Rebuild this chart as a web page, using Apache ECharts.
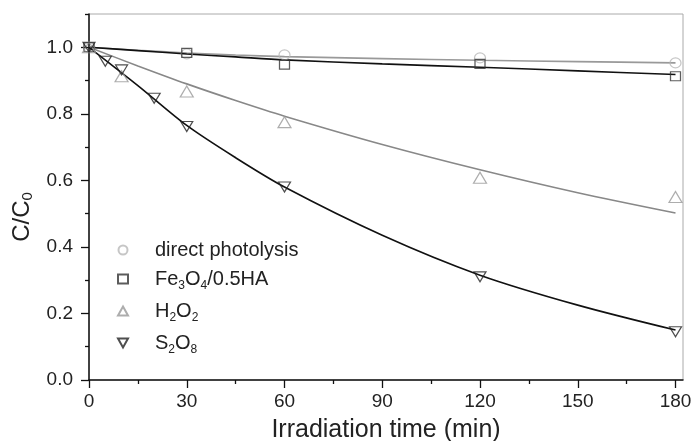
<!DOCTYPE html>
<html>
<head>
<meta charset="utf-8">
<script src="https://cdn.jsdelivr.net/npm/echarts@6/dist/echarts.min.js"></script>
<style>
  html, body { margin: 0; padding: 0; background: #fff; }
  #myCharts { width: 696px; height: 441px; }
</style>
</head>
<body>
<div id="myCharts"></div>
<script>
// measured points
let timeDirect = [0, 30, 60, 120, 180];
let valDirect = [1.0, 0.98, 0.977, 0.968, 0.953];
let timeFe = [0, 30, 60, 120, 180];
let valFe = [1.0, 0.983, 0.948, 0.95, 0.913];
let timeH2O2 = [0, 10, 30, 60, 120, 180];
let valH2O2 = [1.0, 0.913, 0.867, 0.775, 0.608, 0.55];
let timeS2O8 = [0, 5, 10, 20, 30, 60, 120, 180];
let valS2O8 = [1.0, 0.958, 0.932, 0.847, 0.762, 0.58, 0.31, 0.145];

// fitted curves
let fitTime = [0, 15, 30, 45, 60, 90, 120, 150, 180];
let fitDirect = [1.0, 0.991, 0.983, 0.977, 0.972, 0.966, 0.961, 0.957, 0.953];
let fitFe = [1.0, 0.99, 0.98, 0.971, 0.962, 0.95, 0.94, 0.929, 0.918];
let fitH2O2 = [1.0, 0.944, 0.89, 0.84, 0.793, 0.708, 0.632, 0.563, 0.502];
let fitS2O8 = [1.0, 0.885, 0.765, 0.668, 0.58, 0.435, 0.315, 0.225, 0.15];

let seriesNames = ["direct photolysis", "Fe3O4/0.5HA", "H2O2", "S2O8"];
let legendLabels = {
  "direct photolysis": "{g|}{n|direct photolysis}",
  "Fe3O4/0.5HA": "{g|}{n|Fe}{s|3}{n|O}{s|4}{n|/0.5HA}",
  "H2O2": "{g|}{n|H}{s|2}{n|O}{s|2}",
  "S2O8": "{g|}{n|S}{s|2}{n|O}{s|8}",
};

let xMajor = [0, 30, 60, 90, 120, 150, 180];
let xMinor = [15, 45, 75, 105, 135, 165];
let yMajor = [0, 0.2, 0.4, 0.6, 0.8, 1.0];
let yMinor = [0.1, 0.3, 0.5, 0.7, 0.9, 1.1];

const font = "Liberation Sans, Arial, sans-serif";

function pairs(xs, ys) {
  return xs.map((x, i) => [x, ys[i]]);
}

function fitLine(ys, color) {
  return {
    type: "line",
    data: pairs(fitTime, ys),
    smooth: 0.3,
    showSymbol: false,
    silent: true,
    lineStyle: { color: color, width: 1.6 },
    z: 2,
  };
}

function points(name, xs, ys, symbol, size, color, rotate) {
  return {
    name: name,
    type: "scatter",
    data: pairs(xs, ys),
    symbol: symbol,
    symbolSize: size,
    symbolRotate: rotate || 0,
    itemStyle: { color: "rgba(255,255,255,0)", borderColor: color, borderWidth: 1.2 },
    z: 3,
  };
}

let option = {
  animation: false,
  backgroundColor: "#fff",
  grid: {
    left: 89,
    right: 13,
    top: 14,
    bottom: 61,
    show: true,
    borderColor: "#aaa",
    borderWidth: 1,
    outerBoundsMode: "none",
  },
  legend: {
    data: [
      seriesNames[0],
      seriesNames[1],
      seriesNames[2],
      // upside-down triangle icon for the S2O8 entry
      { name: seriesNames[3], icon: "path://M0,0L10,0L5,9Z" },
    ],
    orient: "vertical",
    left: 112,
    top: 235,
    itemWidth: 10,
    itemHeight: 9,
    itemGap: 9,
    formatter: (name) => legendLabels[name],
    textStyle: {
      color: "#222",
      fontFamily: font,
      rich: {
        g: { width: 22 },
        n: { fontSize: 20, fontFamily: font, color: "#222" },
        s: { fontSize: 12, fontFamily: font, color: "#222", padding: [14, 0, 0, 0] },
      },
    },
  },
  xAxis: [
    {
      type: "value",
      position: "bottom",
      min: 0,
      max: 182.3,
      name: "Irradiation time (min)",
      nameLocation: "middle",
      nameGap: 38,
      nameTextStyle: { fontSize: 25, fontFamily: font, color: "#222" },
      axisLine: { onZero: false, lineStyle: { color: "#111", width: 1.5 } },
      axisTick: { customValues: xMajor, length: 8, lineStyle: { color: "#111", width: 1.3 } },
      axisLabel: { customValues: xMajor, margin: 12, fontSize: 19, fontFamily: font, color: "#222" },
      splitLine: { show: false },
    },
    {
      type: "value",
      position: "bottom",
      min: 0,
      max: 182.3,
      axisLine: { show: false },
      axisTick: { customValues: xMinor, length: 4, lineStyle: { color: "#111", width: 1.3 } },
      axisLabel: { show: false },
      splitLine: { show: false },
    },
  ],
  yAxis: [
    {
      type: "value",
      position: "left",
      min: 0,
      max: 1.1,
      name: "{a|C/C}{b|0}",
      nameLocation: "middle",
      nameGap: 44,
      nameTextStyle: {
        padding: [0, 40, 0, 0],
        rich: {
          a: { fontSize: 24, fontFamily: font, color: "#222" },
          b: { fontSize: 15, fontFamily: font, color: "#222", padding: [12, 0, 0, 0] },
        },
      },
      axisLine: { onZero: false, lineStyle: { color: "#111", width: 1.5 } },
      axisTick: { customValues: yMajor, length: 8, lineStyle: { color: "#111", width: 1.3 } },
      axisLabel: {
        customValues: yMajor,
        margin: 16,
        fontSize: 19,
        fontFamily: font,
        color: "#222",
        formatter: (v) => v.toFixed(1),
      },
      splitLine: { show: false },
    },
    {
      type: "value",
      position: "left",
      min: 0,
      max: 1.1,
      axisLine: { show: false },
      axisTick: { customValues: yMinor, length: 4, lineStyle: { color: "#111", width: 1.3 } },
      axisLabel: { show: false },
      splitLine: { show: false },
    },
  ],
  series: [
    fitLine(fitDirect, "#999"),
    fitLine(fitFe, "#111"),
    fitLine(fitH2O2, "#888"),
    fitLine(fitS2O8, "#111"),
    points(seriesNames[0], timeDirect, valDirect, "circle", [11, 10], "#b8b8b8"),
    points(seriesNames[1], timeFe, valFe, "rect", [10, 9], "#333"),
    points(seriesNames[2], timeH2O2, valH2O2, "triangle", [13, 11], "#999"),
    points(seriesNames[3], timeS2O8, valS2O8, "triangle", [12, 10], "#222", 180),
  ],
};

let myChart = echarts.init(document.getElementById("myCharts"));
myChart.setOption(option);
</script>
</body>
</html>
